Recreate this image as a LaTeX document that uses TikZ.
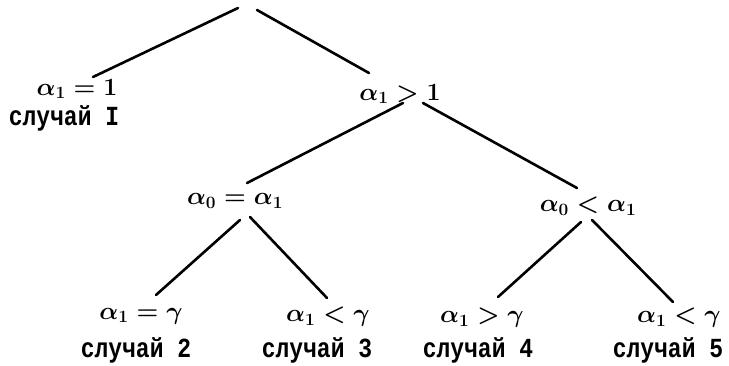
\documentclass[tikz,border=0pt]{standalone}
\usepackage{fontspec}
\newfontfamily\casefont{Liberation Mono}
\begin{document}
\begin{tikzpicture}[x=1pt,y=-1pt,
  branch/.style={line width=2.6pt,line cap=round},
  cond/.style={inner sep=0pt,font=\boldmath\fontsize{23}{23}\selectfont},
  casetxt/.style={inner sep=0pt,anchor=base,font=\casefont\bfseries\fontsize{23}{23}\selectfont}]
\useasboundingbox (0,0) rectangle (729,366);
% tree root (its label lies above the page edge)
\coordinate (root) at (247,3);
% conditions
\node[cond] (a) at (77,89)  {$\alpha_1 = 1$};
\node[cond] (b) at (400,94) {$\alpha_1 > 1$};
\node[cond] (c) at (235,201) {$\alpha_0 = \alpha_1$};
\node[cond] (d) at (588,206) {$\alpha_0 < \alpha_1$};
\node[cond] (e) at (141,316) {$\alpha_1 = \gamma$};
\node[cond] (f) at (328,317) {$\alpha_1 < \gamma$};
\node[cond] (g) at (482,318) {$\alpha_1 > \gamma$};
\node[cond] (h) at (679,318) {$\alpha_1 < \gamma$};
% case names
\node[casetxt] (c1) at (64,126)  {\scalebox{1}[1.2]{случай I}};
\node[casetxt] (c2) at (136,358) {\scalebox{1}[1.2]{случай 2}};
\node[casetxt] (c3) at (317,358) {\scalebox{1}[1.2]{случай 3}};
\node[casetxt] (c4) at (478,358) {\scalebox{1}[1.2]{случай 4}};
\node[casetxt] (c5) at (668,358) {\scalebox{1}[1.2]{случай 5}};
% branches
\draw[branch] ([shift={(-9,5)}]root) -- ([shift={(16,-12)}]a.center);
\draw[branch] ([shift={(10,7)}]root) -- ([shift={(-31,-21)}]b.center);
\draw[branch] ([shift={(3,9)}]b.center) -- ([shift={(12,-18)}]c.center);
\draw[branch] ([shift={(23,9)}]b.center) -- ([shift={(-11,-18)}]d.center);
\draw[branch] ([shift={(5,19)}]c.center) -- ([shift={(15,-21)}]e.center);
\draw[branch] ([shift={(15,16)}]c.center) -- ([shift={(-1,-19)}]f.center);
\draw[branch] ([shift={(-7,16)}]d.center) -- ([shift={(16,-21)}]g.center);
\draw[branch] ([shift={(4,14)}]d.center) -- ([shift={(-6,-16)}]h.center);
\end{tikzpicture}
\end{document}
